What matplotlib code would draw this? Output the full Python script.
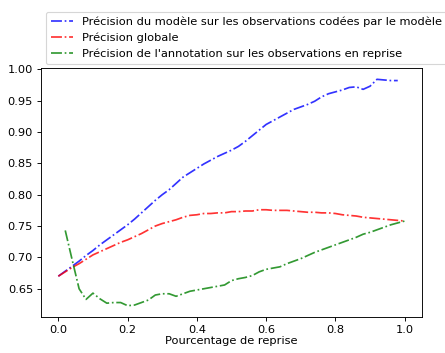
import numpy as np
import matplotlib
matplotlib.use("Agg")
import matplotlib.pyplot as plt

# pourcentage de reprise (pas de 0.02)
x = np.round(np.arange(0, 1.0001, 0.02), 2)

prec_modele = [0.670, 0.678, 0.686, 0.694, 0.703, 0.711, 0.720, 0.728, 0.736, 0.744,
               0.752, 0.761, 0.771, 0.781, 0.791, 0.800, 0.808, 0.818, 0.828, 0.835,
               0.842, 0.849, 0.855, 0.861, 0.866, 0.871, 0.877, 0.885, 0.894, 0.903,
               0.912, 0.918, 0.924, 0.930, 0.936, 0.940, 0.944, 0.949, 0.956, 0.961,
               0.964, 0.967, 0.971, 0.972, 0.968, 0.973, 0.984, 0.983, 0.982, 0.982]

prec_globale = [0.670, 0.677, 0.684, 0.690, 0.697, 0.704, 0.709, 0.714, 0.719, 0.724,
                0.728, 0.733, 0.738, 0.744, 0.750, 0.754, 0.757, 0.760, 0.764, 0.767,
                0.768, 0.770, 0.770, 0.771, 0.771, 0.773, 0.773, 0.774, 0.774, 0.776,
                0.776, 0.775, 0.775, 0.775, 0.774, 0.773, 0.772, 0.772, 0.771, 0.771,
                0.770, 0.768, 0.767, 0.766, 0.764, 0.763, 0.762, 0.761, 0.760, 0.759,
                0.758]

prec_annotation = [0.743, 0.696, 0.650, 0.633, 0.643, 0.634, 0.627, 0.628, 0.628, 0.623,
                   0.624, 0.628, 0.632, 0.640, 0.642, 0.642, 0.638, 0.642, 0.646, 0.648,
                   0.650, 0.652, 0.654, 0.656, 0.663, 0.666, 0.668, 0.671, 0.677, 0.681,
                   0.683, 0.685, 0.690, 0.694, 0.698, 0.703, 0.708, 0.712, 0.716, 0.720,
                   0.724, 0.728, 0.732, 0.737, 0.740, 0.744, 0.748, 0.752, 0.755, 0.758]

DPI = 82
fig = plt.figure(figsize=(445 / DPI, 353 / DPI), dpi=DPI)
ax = fig.add_axes([41 / 445, 1 - 317 / 353, 381 / 445, 249 / 353])

ax.plot(x[:-1], prec_modele, "b-.", alpha=0.8,
        label="Précision du modèle sur les observations codées par le modèle")
ax.plot(x, prec_globale, "r-.", alpha=0.8, label="Précision globale")
ax.plot(x[1:], prec_annotation, "g-.", alpha=0.8,
        label="Précision de l'annotation sur les observations en reprise")

ax.set_xlabel("Pourcentage de reprise", labelpad=1)
ax.set_xticks([0.0, 0.2, 0.4, 0.6, 0.8, 1.0])

fig.legend(loc="lower left", bbox_to_anchor=(46 / 445, 1 - 64 / 353),
           borderaxespad=0)

fig.savefig("out.png", dpi=DPI)
